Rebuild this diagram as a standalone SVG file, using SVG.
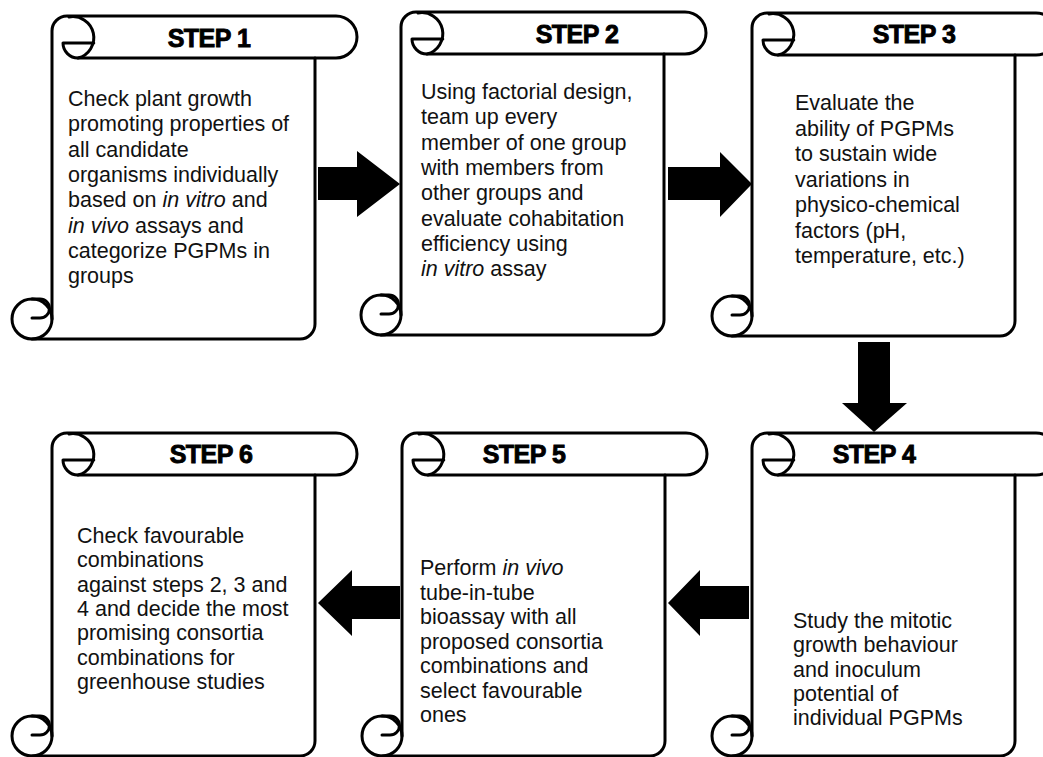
<svg xmlns="http://www.w3.org/2000/svg" width="1043" height="757" viewBox="0 0 1043 757">
<style>
.sc{fill:none;stroke:#000;stroke-width:3;stroke-linejoin:round;stroke-linecap:round}
.bg{fill:#fff;stroke:none}
.tt{font-family:"Liberation Sans",Arial,sans-serif;font-weight:bold;font-size:25px;fill:#000;stroke:#000;stroke-width:0.9;text-anchor:middle;letter-spacing:-0.5px}
.tx{font-family:"Liberation Sans",Arial,sans-serif;font-size:21.5px;fill:#111}
.it{font-style:italic}
.ar{fill:#000;stroke:none}
</style>
<defs>
<g id="scroll">
<path class="bg" d="M0,303 V15 A15 15 0 0 1 15,0 H284 A21 21 0 0 1 284,42 H263 V308 A15 15 0 0 1 248,323 H-20 V283 Z"/>
<circle class="bg" cx="-20" cy="303" r="20"/>
<path class="sc" d="M0,303 V15 A15 15 0 0 1 15,0 H284 A21 21 0 0 1 284,42 H26"/>
<path class="sc" d="M17,1 A21 21 0 0 1 26,42 M11,27 H41.8 M11,27 A15 15 0 0 0 26,42"/>
<path class="sc" d="M263,42 V308 A15 15 0 0 1 248,323 H-20"/>
<circle class="sc" cx="-20" cy="303" r="20"/>
<path class="sc" d="M-20,283 H-12 A9.5 9.5 0 0 1 -12,302 H-20"/>
</g>
</defs>
<rect width="1043" height="757" fill="#fff"/>

<g id="connectors">
<path class="ar" d="M318,167 H357 V151 L400,184 L357,217 V200 H318 Z"/>
<path class="ar" d="M668,167 H720 V152 L752,184 L720,217 V200 H668 Z"/>
<path class="ar" d="M858,342 H890 V403 H907 L874,432 L842,403 H858 Z"/>
<path class="ar" d="M749,586 H700 V570 L668,603 L700,636 V619 H749 Z"/>
<path class="ar" d="M400,586 H352 V570 L318,603 L352,636 V619 H400 Z"/>
</g>

<g id="step1">
<use href="#scroll" transform="translate(52,16)"/>
<text class="tt" x="209" y="47">STEP 1</text>
<text class="tx">
<tspan x="68" y="106">Check plant growth</tspan>
<tspan x="68" y="131.3">promoting properties of</tspan>
<tspan x="68" y="156.6">all candidate</tspan>
<tspan x="68" y="181.9">organisms individually</tspan>
<tspan x="68" y="207.2">based on <tspan class="it">in vitro</tspan> and</tspan>
<tspan x="68" y="232.5"><tspan class="it">in vivo</tspan> assays and</tspan>
<tspan x="68" y="257.8">categorize PGPMs in</tspan>
<tspan x="68" y="283.1">groups</tspan>
</text>
</g>

<g id="step2">
<use href="#scroll" transform="translate(401,12)"/>
<text class="tt" x="577" y="43">STEP 2</text>
<text class="tx">
<tspan x="421" y="99">Using factorial design,</tspan>
<tspan x="421" y="124.3">team up every</tspan>
<tspan x="421" y="149.6">member of one group</tspan>
<tspan x="421" y="174.9">with members from</tspan>
<tspan x="421" y="200.2">other groups and</tspan>
<tspan x="421" y="225.5">evaluate cohabitation</tspan>
<tspan x="421" y="250.8">efficiency using</tspan>
<tspan x="421" y="276.1"><tspan class="it">in vitro</tspan> assay</tspan>
</text>
</g>

<g id="step3">
<use href="#scroll" transform="translate(752,13)"/>
<text class="tt" x="914" y="43">STEP 3</text>
<text class="tx">
<tspan x="795" y="110">Evaluate the</tspan>
<tspan x="795" y="135.5">ability of PGPMs</tspan>
<tspan x="795" y="161">to sustain wide</tspan>
<tspan x="795" y="186.5">variations in</tspan>
<tspan x="795" y="212">physico-chemical</tspan>
<tspan x="795" y="237.5">factors (pH,</tspan>
<tspan x="795" y="263">temperature, etc.)</tspan>
</text>
</g>

<g id="step4">
<use href="#scroll" transform="translate(752,433)"/>
<text class="tt" x="874" y="463">STEP 4</text>
<text class="tx">
<tspan x="793" y="628">Study the mitotic</tspan>
<tspan x="793" y="652.3">growth behaviour</tspan>
<tspan x="793" y="676.6">and inoculum</tspan>
<tspan x="793" y="700.9">potential of</tspan>
<tspan x="793" y="725.2">individual PGPMs</tspan>
</text>
</g>

<g id="step5">
<use href="#scroll" transform="translate(402,433)"/>
<text class="tt" x="524" y="463">STEP 5</text>
<text class="tx">
<tspan x="420" y="575">Perform <tspan class="it">in vivo</tspan></tspan>
<tspan x="420" y="599.5">tube-in-tube</tspan>
<tspan x="420" y="624">bioassay with all</tspan>
<tspan x="420" y="648.5">proposed consortia</tspan>
<tspan x="420" y="673">combinations and</tspan>
<tspan x="420" y="697.5">select favourable</tspan>
<tspan x="420" y="722">ones</tspan>
</text>
</g>

<g id="step6">
<use href="#scroll" transform="translate(52,433)"/>
<text class="tt" x="211" y="463">STEP 6</text>
<text class="tx">
<tspan x="77" y="543">Check favourable</tspan>
<tspan x="77" y="567.3">combinations</tspan>
<tspan x="77" y="591.6">against steps 2, 3 and</tspan>
<tspan x="77" y="615.9">4 and decide the most</tspan>
<tspan x="77" y="640.2">promising consortia</tspan>
<tspan x="77" y="664.5">combinations for</tspan>
<tspan x="77" y="688.8">greenhouse studies</tspan>
</text>
</g>
</svg>
